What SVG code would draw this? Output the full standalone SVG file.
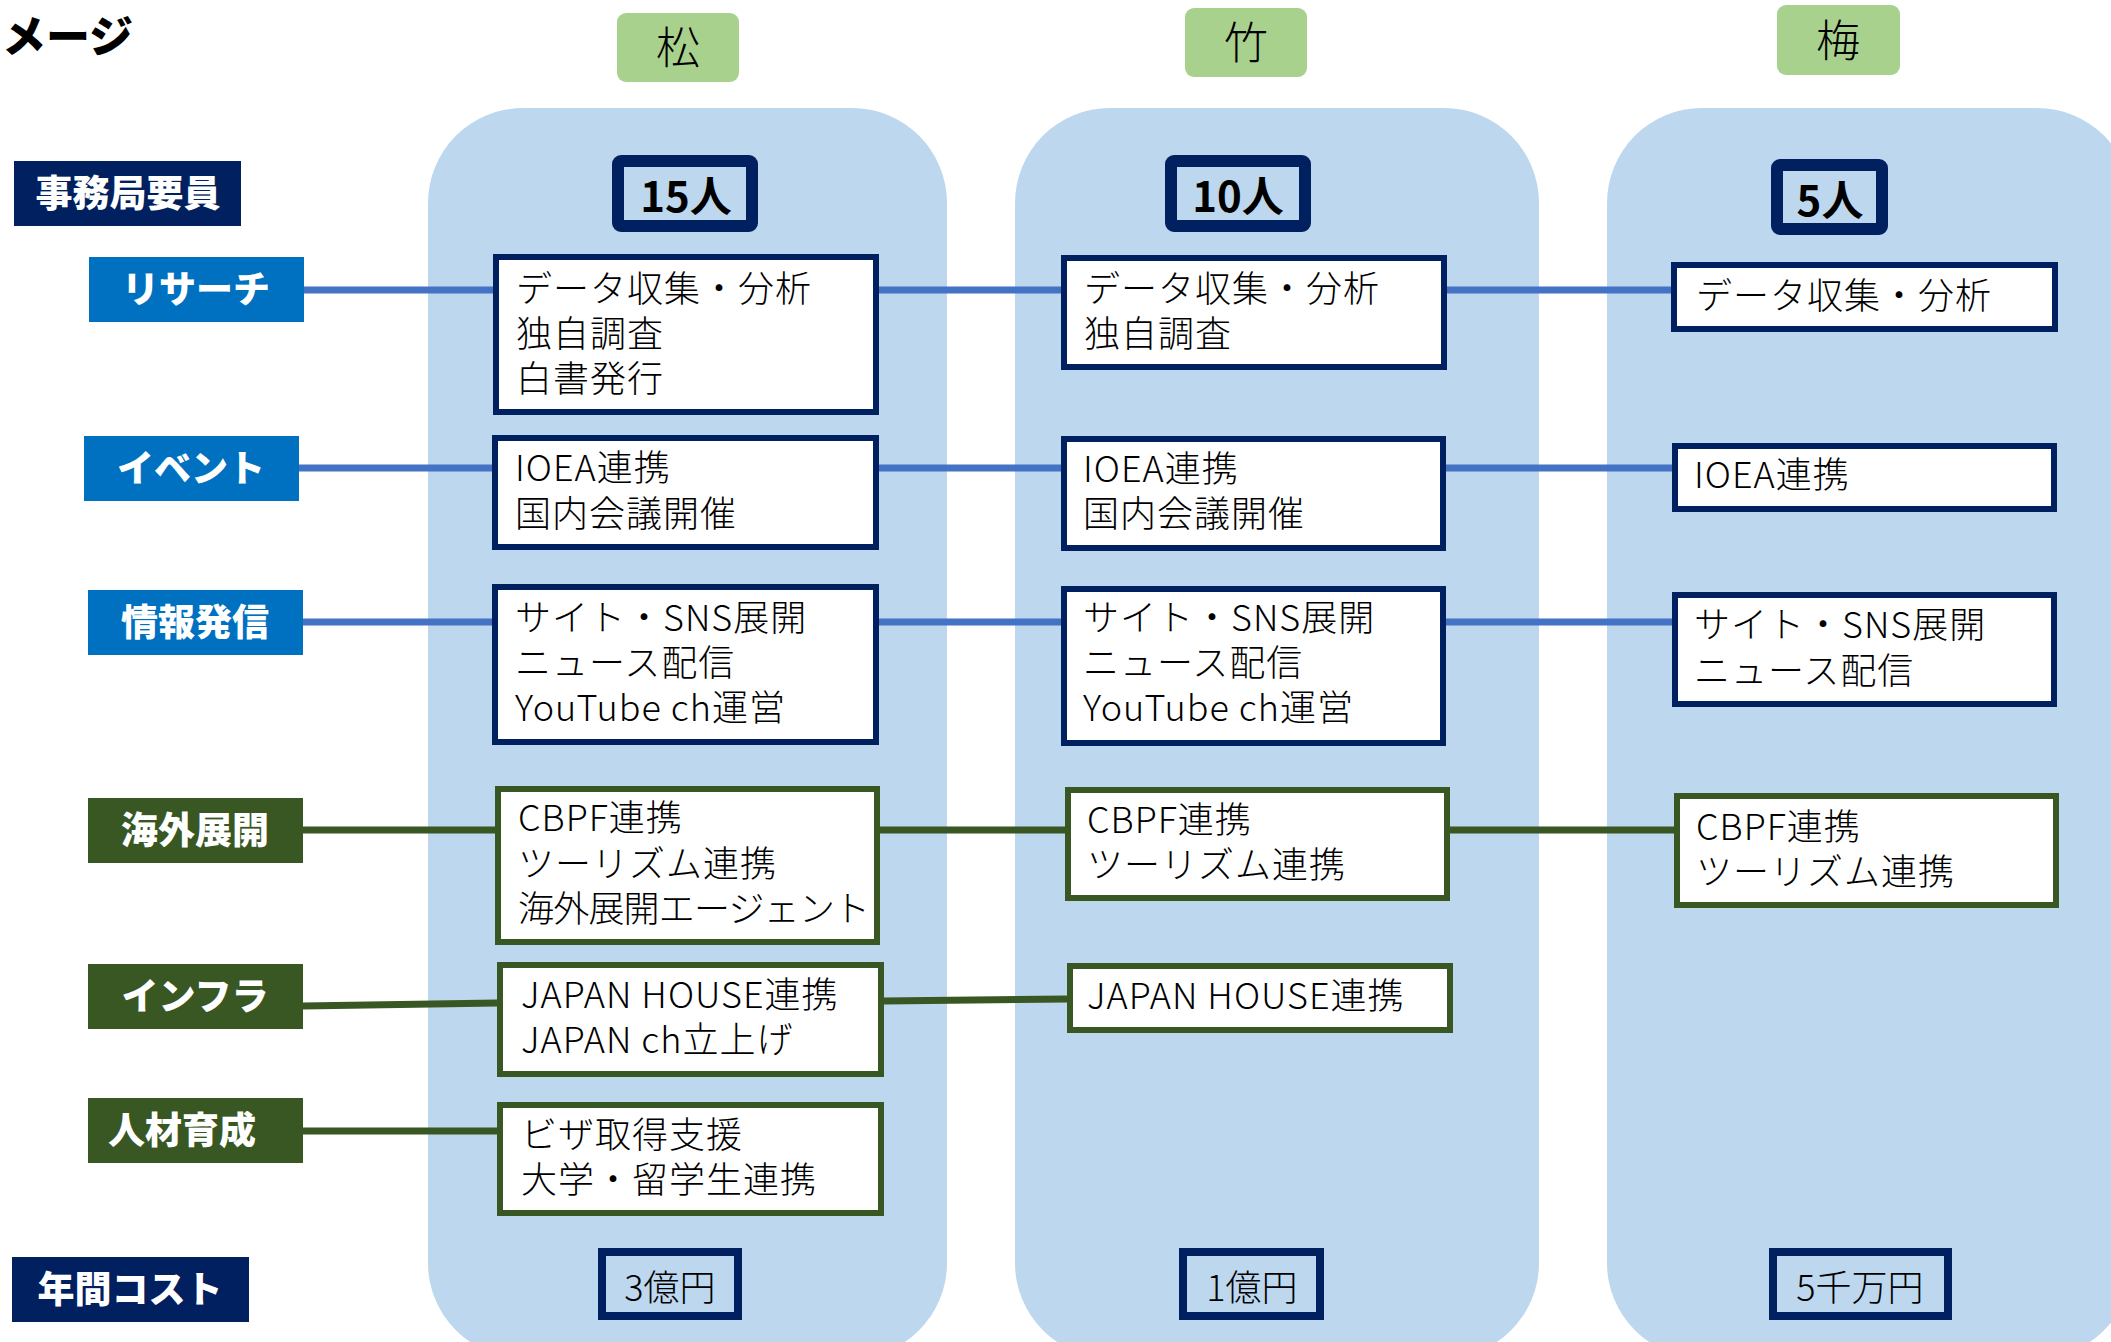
<svg xmlns="http://www.w3.org/2000/svg" width="2111" height="1342" viewBox="0 0 2111 1342">
<style>
.col{fill:#BDD7EE}
.hdr{fill:#A9D18E}
.hdrt{font-family:"Noto Sans CJK JP","Noto Sans",sans-serif;font-size:44px;font-weight:300;fill:#000;text-anchor:middle}
.lbl{font-family:"Noto Sans CJK JP","Noto Sans",sans-serif;font-size:37px;font-weight:900;fill:#fff;text-anchor:middle}
.navy{fill:#002060}
.blue{fill:#0070C0}
.green{fill:#385723}
.tier{fill:#BDD7EE;stroke:#002060;stroke-width:12}
.tiert{font-family:"Noto Sans CJK JP","Noto Sans",sans-serif;font-size:42px;font-weight:700;fill:#000;text-anchor:middle}
.bn{fill:#fff;stroke:#002060;stroke-width:6}
.bg{fill:#fff;stroke:#385723;stroke-width:6}
.t{font-family:"Noto Sans CJK JP","Noto Sans",sans-serif;font-size:36px;font-weight:300;fill:#000;letter-spacing:1px}
.cost{fill:#BDD7EE;stroke:#002060;stroke-width:8}
.costt{font-family:"Noto Sans CJK JP","Noto Sans",sans-serif;font-size:36px;font-weight:300;fill:#000;text-anchor:middle}
.lb{stroke:#4472C4;stroke-width:7;fill:none}
.lg{stroke:#385723;stroke-width:7;fill:none}
</style>
<rect width="2111" height="1342" fill="#fff"/>
<g id="columns">
<rect class="col" x="428" y="108" width="519" height="1250" rx="95"/>
<rect class="col" x="1015" y="108" width="524" height="1250" rx="95"/>
<rect class="col" x="1607" y="108" width="525" height="1250" rx="95"/>
</g>
<text x="2" y="53" style="font-family:'Noto Sans CJK JP',sans-serif;font-size:44px;font-weight:900;fill:#000">メージ</text>
<g id="hdr-matsu"><rect class="hdr" x="617" y="13" width="122" height="69" rx="9"/><text class="hdrt" x="678" y="64">松</text></g>
<g id="hdr-take"><rect class="hdr" x="1185" y="8" width="122" height="69" rx="9"/><text class="hdrt" x="1246" y="59">竹</text></g>
<g id="hdr-ume"><rect class="hdr" x="1777" y="5" width="123" height="70" rx="9"/><text class="hdrt" x="1838" y="57">梅</text></g>

<g id="connectors">
<path class="lb" d="M304 290H493M879 290H1061M1447 290H1671"/>
<path class="lb" d="M299 468H492M879 468H1061M1446 468H1672"/>
<path class="lb" d="M303 622H492M879 622H1061M1446 622H1672"/>
<path class="lg" d="M303 830H495M880 830H1065M1450 830H1674"/>
<path class="lg" d="M303 1006L497 1003M884 1001L1067 999"/>
<path class="lg" d="M303 1131H497"/>
</g>

<g id="lbl-staff"><rect class="navy" x="14" y="161" width="227" height="65"/><text class="lbl" x="128" y="207">事務局要員</text></g>
<g id="lbl-research"><rect class="blue" x="89" y="257" width="215" height="65"/><text class="lbl" x="196" y="303">リサーチ</text></g>
<g id="lbl-event"><rect class="blue" x="84" y="436" width="215" height="65"/><text class="lbl" x="191" y="482">イベント</text></g>
<g id="lbl-info"><rect class="blue" x="88" y="590" width="215" height="65"/><text class="lbl" x="195" y="636">情報発信</text></g>
<g id="lbl-overseas"><rect class="green" x="88" y="798" width="215" height="65"/><text class="lbl" x="195" y="844">海外展開</text></g>
<g id="lbl-infra"><rect class="green" x="88" y="964" width="215" height="65"/><text class="lbl" x="195" y="1010">インフラ</text></g>
<g id="lbl-hr"><rect class="green" x="88" y="1098" width="215" height="65"/><text class="lbl" x="182" y="1144">人材育成</text></g>
<g id="lbl-cost"><rect class="navy" x="12" y="1257" width="237" height="65"/><text class="lbl" x="130" y="1303">年間コスト</text></g>

<g id="tier-1"><rect class="tier" x="618" y="161" width="134" height="65" rx="3"/><text class="tiert" x="686" y="212">15人</text></g>
<g id="tier-2"><rect class="tier" x="1171" y="161" width="134" height="65" rx="3"/><text class="tiert" x="1238" y="212">10人</text></g>
<g id="tier-3"><rect class="tier" x="1777" y="165" width="105" height="64" rx="3"/><text class="tiert" x="1830" y="216">5人</text></g>

<g id="c1-research"><rect class="bn" x="496" y="257" width="380" height="155"/><text class="t" x="516" y="302">データ収集・分析<tspan x="516" dy="45">独自調査</tspan><tspan x="516" dy="45">白書発行</tspan></text></g>
<g id="c2-research"><rect class="bn" x="1064" y="258" width="380" height="109"/><text class="t" x="1084" y="302">データ収集・分析<tspan x="1084" dy="45">独自調査</tspan></text></g>
<g id="c3-research"><rect class="bn" x="1674" y="265" width="381" height="64"/><text class="t" x="1696" y="309">データ収集・分析</text></g>

<g id="c1-event"><rect class="bn" x="495" y="438" width="381" height="109"/><text class="t" x="515" y="481">IOEA連携<tspan x="515" dy="46">国内会議開催</tspan></text></g>
<g id="c2-event"><rect class="bn" x="1064" y="439" width="379" height="109"/><text class="t" x="1083" y="482">IOEA連携<tspan x="1083" dy="45">国内会議開催</tspan></text></g>
<g id="c3-event"><rect class="bn" x="1675" y="446" width="379" height="63"/><text class="t" x="1694" y="488">IOEA連携</text></g>

<g id="c1-info"><rect class="bn" x="495" y="587" width="381" height="155"/><text class="t" x="515" y="631">サイト・SNS展開<tspan x="515" dy="45">ニュース配信</tspan><tspan x="515" dy="45">YouTube ch運営</tspan></text></g>
<g id="c2-info"><rect class="bn" x="1064" y="589" width="379" height="154"/><text class="t" x="1083" y="631">サイト・SNS展開<tspan x="1083" dy="45">ニュース配信</tspan><tspan x="1083" dy="45">YouTube ch運営</tspan></text></g>
<g id="c3-info"><rect class="bn" x="1675" y="595" width="379" height="109"/><text class="t" x="1694" y="638">サイト・SNS展開<tspan x="1694" dy="46">ニュース配信</tspan></text></g>

<g id="c1-overseas"><rect class="bg" x="498" y="789" width="379" height="153"/><text class="t" x="518" y="831">CBPF連携<tspan x="518" dy="46">ツーリズム連携</tspan><tspan x="518" dy="45" letter-spacing="-0.8">海外展開エージェント</tspan></text></g>
<g id="c2-overseas"><rect class="bg" x="1068" y="790" width="379" height="108"/><text class="t" x="1087" y="833">CBPF連携<tspan x="1087" dy="45">ツーリズム連携</tspan></text></g>
<g id="c3-overseas"><rect class="bg" x="1677" y="796" width="379" height="109"/><text class="t" x="1696" y="840">CBPF連携<tspan x="1696" dy="45">ツーリズム連携</tspan></text></g>

<g id="c1-infra"><rect class="bg" x="500" y="965" width="381" height="109"/><text class="t" x="521" y="1008">JAPAN HOUSE連携<tspan x="521" dy="45">JAPAN ch立上げ</tspan></text></g>
<g id="c2-infra"><rect class="bg" x="1070" y="966" width="380" height="64"/><text class="t" x="1087" y="1009">JAPAN HOUSE連携</text></g>

<g id="c1-hr"><rect class="bg" x="500" y="1105" width="381" height="108"/><text class="t" x="521" y="1148">ビザ取得支援<tspan x="521" dy="45">大学・留学生連携</tspan></text></g>

<g id="cost-1"><rect class="cost" x="602" y="1252" width="136" height="64"/><text class="costt" x="670" y="1301">3億円</text></g>
<g id="cost-2"><rect class="cost" x="1183" y="1252" width="137" height="64"/><text class="costt" x="1252" y="1301">1億円</text></g>
<g id="cost-3"><rect class="cost" x="1773" y="1252" width="175" height="64"/><text class="costt" x="1860" y="1301">5千万円</text></g>
</svg>
